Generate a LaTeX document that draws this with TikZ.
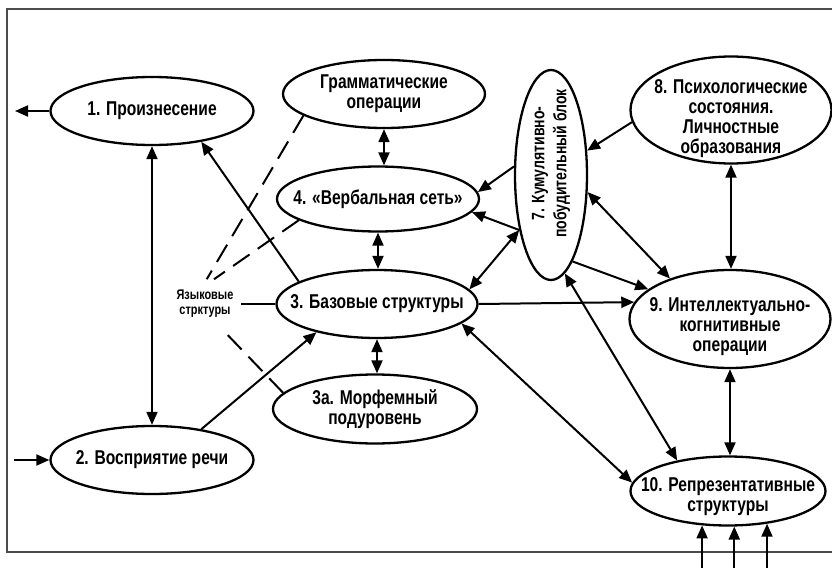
\documentclass[tikz,border=0pt]{standalone}
\usepackage{fontspec}
\setmainfont{Liberation Sans}[FakeStretch=0.78]
\usepackage{graphicx}
\usetikzlibrary{arrows.meta,shapes.geometric}

\begin{document}
\begin{tikzpicture}[x=0.5pt, y=-0.5pt, line width=1pt, >={Triangle[length=6.5pt,width=5.5pt]},
	every node/.style={font=\bfseries\fontsize{10}{10}\selectfont},
	nd/.style={draw, ellipse, line width=1.15pt, inner sep=-20pt, align=center},
	sz/.style 2 args={minimum width=#1*0.5pt, minimum height=#2*0.5pt},
	dsh/.style={dash pattern=on 10pt off 5pt}]
	\useasboundingbox (0,0) rectangle (832,568);
	\draw[line width=0.8pt, black!70] (832,9) -- (7,9) -- (7,552) -- (832,552);
	\node[nd, sz={203}{68}] (n1) at (152,111) {1. Произнесение};
	\node[nd, sz={202}{68}] (ngr) at (384,94) {Грамматические\\операции};
	\node[nd, sz={202}{65}] (n4) at (378,199) {4. «Вербальная сеть»};
	\node[nd, sz={201}{68}] (n3) at (377,304) {3. Базовые структуры};
	\node[nd, sz={204}{69}] (n3a) at (375,409) {3а. Морфемный\\подуровень};
	\node[nd, sz={203}{68}] (n2) at (152,460) {2. Восприятие речи};
	\node[nd, sz={72}{210}] (n7) at (551,175) {\rotatebox{90}{\fontsize{9}{10}\selectfont\hspace{11.5pt}\renewcommand{\arraystretch}{1.1}\begin{tabular}{@{}c@{}}7. Кумулятивно-\\побудительный блок\end{tabular}}};
	\node[nd, sz={201}{107}] (n8) at (731,110) {\rule{0pt}{15.7pt}8. Психологические\\состояния.\\Личностные\\образования};
	\node[nd, sz={201}{98}] (n9) at (730,319) {\rule{0pt}{14.7pt}9. Интеллектуально-\\когнитивные\\операции};
	\node[nd, sz={195}{69}] (n10) at (728,491) {\rule{0pt}{12.7pt}10. Репрезентативные\\структуры};
	\node[font=\bfseries\fontsize{7}{7.5}\selectfont, align=center, inner xsep=3.5pt, inner ysep=5pt] (lang) at (205,304) {Языковые\\стрктуры};
	\coordinate (out1) at (15,111);
	\coordinate (in2) at (14,460);
	% speech in and out
	\draw[->] (n1.west) -- (out1); \draw[->] (in2) -- (n2.west);
	\draw[<->] (n1.south) -- (n2.north);
	\draw[->] (n3.164) -- (n1.-32); \draw[->] (n2.32) -- (n3.205);
	% language structures
	\draw[dsh] (ngr.195) -- (lang.86); \draw[dsh] (n4.195) -- (lang.70);
	\draw[dsh] (n3a.170) -- (lang.-56); \draw (lang) -- (n3);
	\draw[<->] (ngr) -- (ngr |- n4.north);
	\draw[<->] (n4.south) -- (n4.south |- n3.north);
	\draw[<->] (n3.south) -- (n3.south |- n3a.north);
	% block 7
	\draw[->] (n7.167) -- (n4.4); \draw[->] (n7.240) -- (n4.-8);
	\draw[<->] (n3.9) -- (n7.240);
	\draw[->] (n8.187) -- (n7.34);
	\draw[<->] (n7.-25) -- (n9.146); \draw[->] (n7.-76) -- (n9.160);
	\draw[<->] (n7.-82) -- (n10.149);
	% right column
	\draw[<->] (n8.south) -- (n8.south |- n9.north);
	\draw[<->] (n9.south) -- (n9.south |- n10.north);
	\draw[->] (n3.east) -- (n9.170);
	\draw[<->] (n3.-13) -- (n10.175);
	\foreach \a in {233,280,320} \draw[->] (n10.\a |- 0,568) -- (n10.\a);
\end{tikzpicture}
\end{document}
